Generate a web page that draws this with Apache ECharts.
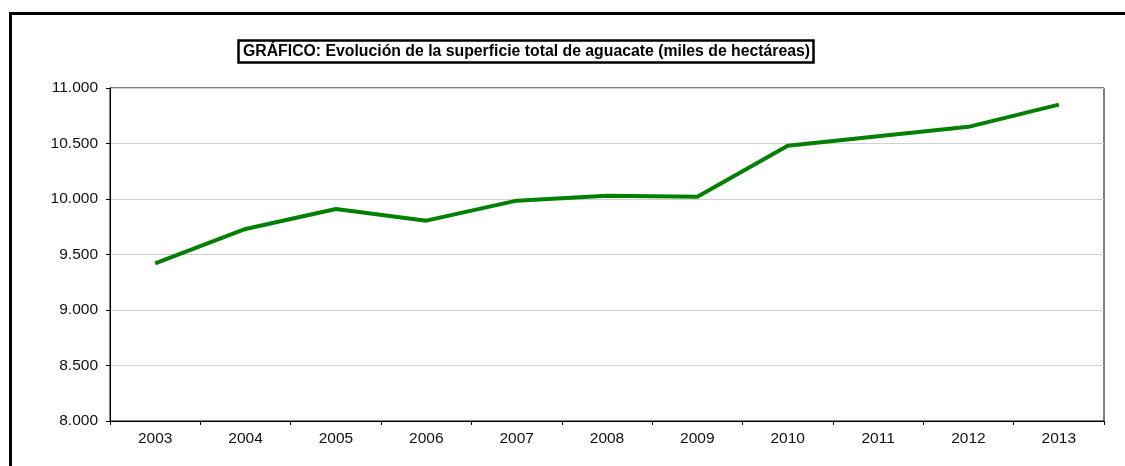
<!DOCTYPE html>
<html>
<head>
<meta charset="utf-8">
<script src="https://cdn.jsdelivr.net/npm/echarts@6/dist/echarts.min.js"></script>
<style>
html,body{margin:0;padding:0;background:#fff;}
#chart{width:1125px;height:466px;}
</style>
</head>
<body>
<div id="chart"></div>
<script>
const titleText = 'GRÁFICO: Evolución de la superficie total de aguacate (miles de hectáreas)';
const years = ['2003','2004','2005','2006','2007','2008','2009','2010','2011','2012','2013'];
const superficie = [9420, 9730, 9910, 9805, 9985, 10030, 10020, 10480, 10565, 10650, 10850];
const yMin = 8000, yMax = 11000, yStep = 500;

function fmt(v){
  return String(Math.round(v)).replace(/\B(?=(\d{3})+(?!\d))/g, '.');
}

const chart = echarts.init(document.getElementById('chart'));
chart.setOption({
  animation: false,
  backgroundColor: '#fff',
  textStyle: { fontFamily: '"Liberation Sans", Arial, sans-serif' },
  title: {
    text: titleText,
    left: 238, top: 40,
    padding: [4, 4, 3, 5],
    borderColor: '#000', borderWidth: 2.5,
    textStyle: { fontSize: 15.8, fontWeight: 'bold', color: '#000', fontFamily: '"Liberation Sans", Arial, sans-serif' }
  },
  graphic: [{
    type: 'rect', left: 8, top: 11, silent: true,
    shape: { x: 0, y: 0, width: 1130, height: 470 },
    style: { fill: 'none', stroke: '#000', lineWidth: 3 }
  }],
  grid: { left: 110, right: 21, top: 88, bottom: 45, show: true, borderColor: '#000', borderWidth: 1, backgroundColor: 'transparent' },
  xAxis: {
    type: 'category', data: years, boundaryGap: true,
    axisLine: { lineStyle: { color: '#000', width: 1 } },
    axisTick: { show: true, length: 4, lineStyle: { color: '#000' } },
    axisLabel: { color: '#111', fontSize: 15.5, margin: 10 }
  },
  yAxis: {
    type: 'value', min: yMin, max: yMax, interval: yStep,
    axisLine: { show: true, lineStyle: { color: '#000', width: 1 } },
    axisTick: { show: true, length: 4, lineStyle: { color: '#000' } },
    axisLabel: { color: '#111', fontSize: 15.5, margin: 12, formatter: fmt },
    splitLine: { show: true, lineStyle: { color: '#cfcfcf', width: 1 } }
  },
  series: [{
    type: 'line', data: superficie, symbol: 'none',
    lineStyle: { color: '#008000', width: 4 },
    itemStyle: { color: '#008000' }
  }]
});
</script>
</body>
</html>
